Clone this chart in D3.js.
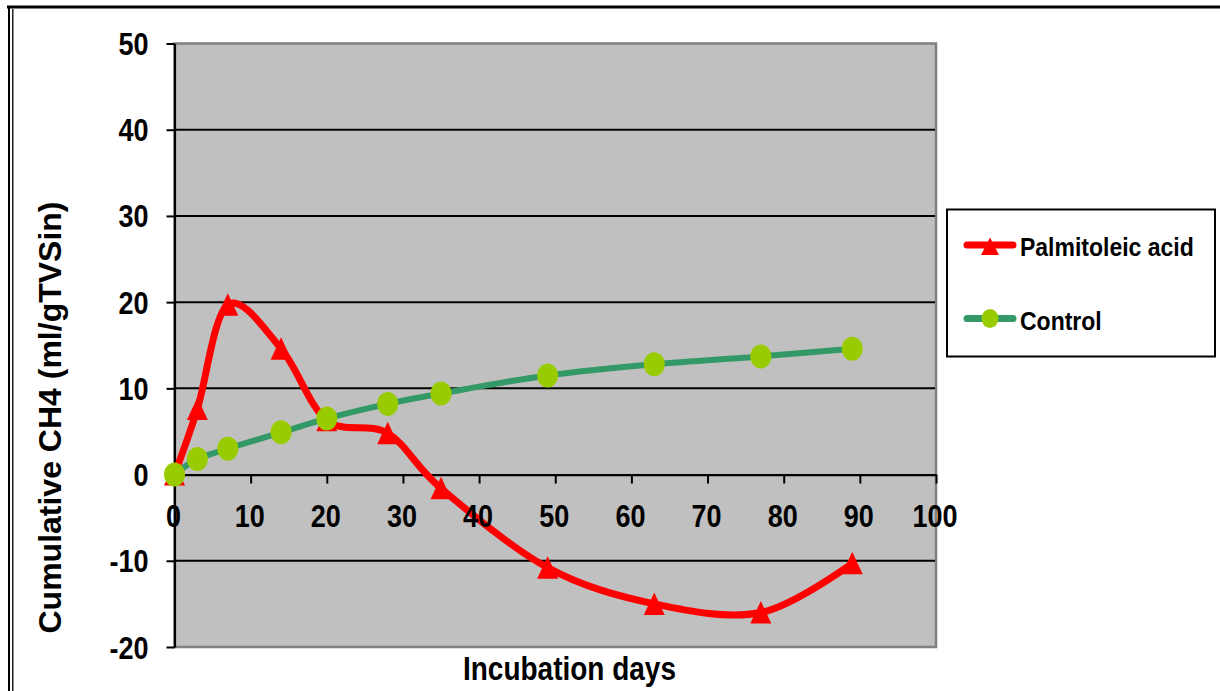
<!DOCTYPE html>
<html>
<head>
<meta charset="utf-8">
<script src="https://cdn.jsdelivr.net/npm/d3@7"></script>
<style>
  body { margin: 0; background: #fff; }
  svg { display: block; }
  text { font-family: "Liberation Sans", Arial, Helvetica, sans-serif; font-weight: bold; fill: #000; }
</style>
</head>
<body>
<svg id="chart" width="1220" height="691"></svg>
<script>
// Incubation days at which cumulative methane was measured
const days = [0, 3, 7, 14, 20, 28, 35, 49, 63, 77, 89];
// Cumulative CH4 (ml/gTVSin)
const palmitoleic = [0, 7.6, 19.7, 14.6, 6.3, 4.8, -1.6, -10.8, -15.0, -16.0, -10.3];
const control = [0, 1.8, 3.0, 4.9, 6.5, 8.2, 9.4, 11.5, 12.8, 13.7, 14.6];
const seriesNames = ["Palmitoleic acid", "Control"];
const xTicks = [0, 10, 20, 30, 40, 50, 60, 70, 80, 90, 100];
const yTicks = [-20, -10, 0, 10, 20, 30, 40, 50];
const xTitle = "Incubation days";
const yTitle = "Cumulative CH4 (ml/gTVSin)";

const svg = d3.select("#chart");
const W = 1220, H = 691;
const plot = { left: 174.5, right: 936, top: 43.5, bottom: 647 };
const stretch = 1.19; // labels are drawn tall and narrow

const x = d3.scaleLinear().domain([0, 100]).range([plot.left, plot.right]);
const y = d3.scaleLinear().domain([-20, 50]).range([plot.bottom, plot.top]);

const RED = "#ff0000", GREEN_LINE = "#339966", GREEN_DOT = "#99cc00";

// outer frame: heavy top rule and a double rule on the left
svg.append("line").attr("x1", 7).attr("x2", W).attr("y1", 7).attr("y2", 7)
  .attr("stroke", "#000").attr("stroke-width", 3);
svg.append("line").attr("x1", 9).attr("x2", 9).attr("y1", 6).attr("y2", H)
  .attr("stroke", "#000").attr("stroke-width", 2);
svg.append("line").attr("x1", 12.8).attr("x2", 12.8).attr("y1", 9).attr("y2", H)
  .attr("stroke", "#000").attr("stroke-width", 1.3);

// plot area
svg.append("rect")
  .attr("x", plot.left).attr("y", plot.top)
  .attr("width", plot.right - plot.left).attr("height", plot.bottom - plot.top)
  .attr("fill", "#c0c0c0").attr("stroke", "#808080").attr("stroke-width", 2.5);

// horizontal gridlines
svg.append("g").selectAll("line")
  .data(yTicks.filter(v => v !== 0 && v !== -20 && v !== 50))
  .join("line")
  .attr("x1", plot.left).attr("x2", plot.right - 1)
  .attr("y1", d => y(d)).attr("y2", d => y(d))
  .attr("stroke", "#000").attr("stroke-width", 2);

// y axis with outward ticks
const yAxis = svg.append("g")
  .attr("transform", `translate(${plot.left},0)`)
  .call(d3.axisLeft(y).tickValues(yTicks).tickFormat("").tickSize(8).tickSizeOuter(0));
yAxis.select(".domain").attr("stroke", "#000").attr("stroke-width", 2.2);
yAxis.selectAll(".tick line").attr("stroke", "#000").attr("stroke-width", 2);

// x axis crossing at zero, ticks pointing down
const xAxis = svg.append("g")
  .attr("transform", `translate(0,${y(0)})`)
  .call(d3.axisBottom(x).tickValues(xTicks).tickFormat("").tickSize(9).tickSizeOuter(0));
xAxis.select(".domain").attr("stroke", "#000").attr("stroke-width", 2.2);
xAxis.selectAll(".tick line").attr("stroke", "#000").attr("stroke-width", 2);

const curve = d3.curveCardinal.tension(0);
const line = d3.line().x(d => x(d[0])).y(d => y(d[1])).curve(curve);

const redPts = days.map((d, i) => [d, palmitoleic[i]]);
const greenPts = days.map((d, i) => [d, control[i]]);

const triangle = (cx, cy, hw, up, down) =>
  `M${cx},${cy - up}L${cx + hw},${cy + down}L${cx - hw},${cy + down}Z`;

// Palmitoleic acid series
svg.append("path").attr("d", line(redPts))
  .attr("fill", "none").attr("stroke", RED).attr("stroke-width", 7)
  .attr("stroke-linejoin", "round").attr("stroke-linecap", "round");
svg.append("g").selectAll("path")
  .data(redPts).join("path")
  .attr("d", d => triangle(x(d[0]), y(d[1]), 10.5, 11.5, 11))
  .attr("fill", RED);

// Control series
svg.append("path").attr("d", line(greenPts))
  .attr("fill", "none").attr("stroke", GREEN_LINE).attr("stroke-width", 6)
  .attr("stroke-linejoin", "round").attr("stroke-linecap", "round");
svg.append("g").selectAll("ellipse")
  .data(greenPts).join("ellipse")
  .attr("cx", d => x(d[0])).attr("cy", d => y(d[1]))
  .attr("rx", 10.5).attr("ry", 12)
  .attr("fill", GREEN_DOT);

// tall narrow text helper
function label(g, tx, ty, str, size, anchor, sy) {
  return g.append("text")
    .attr("transform", `translate(${tx},${ty}) scale(1,${sy})`)
    .attr("text-anchor", anchor)
    .style("font-size", size + "px")
    .text(str);
}

// tick labels
const tl = svg.append("g");
yTicks.forEach(v => label(tl, 148.5, y(v) + 11.5, String(v), 27, "end", stretch));
xTicks.forEach(v => label(tl, x(v) - 1, 527, String(v), 27, "middle", stretch));

// axis titles
label(svg, 569.5, 680, xTitle, 28, "middle", 1.2);
svg.append("text")
  .attr("transform", `translate(61,417.5) rotate(-90)`)
  .attr("text-anchor", "middle")
  .style("font-size", "32px")
  .text(yTitle);

// legend
const lg = svg.append("g");
lg.append("rect").attr("x", 947).attr("y", 209.5).attr("width", 268).attr("height", 147)
  .attr("fill", "#fff").attr("stroke", "#000").attr("stroke-width", 2);
const legendRows = [
  { name: seriesNames[0], y: 245, baseline: 256 },
  { name: seriesNames[1], y: 318.5, baseline: 330 }
];
// Palmitoleic acid key
lg.append("line").attr("x1", 967).attr("x2", 1013)
  .attr("y1", legendRows[0].y).attr("y2", legendRows[0].y)
  .attr("stroke", RED).attr("stroke-width", 7).attr("stroke-linecap", "round");
lg.append("path").attr("d", triangle(990, legendRows[0].y + 1.5, 9, 9, 8.5)).attr("fill", RED);
// Control key
lg.append("line").attr("x1", 967).attr("x2", 1013)
  .attr("y1", legendRows[1].y).attr("y2", legendRows[1].y)
  .attr("stroke", GREEN_LINE).attr("stroke-width", 7).attr("stroke-linecap", "round");
lg.append("ellipse").attr("cx", 990).attr("cy", legendRows[1].y).attr("rx", 8.5).attr("ry", 9.5)
  .attr("fill", GREEN_DOT);
legendRows.forEach(r => label(lg, 1020, r.baseline, r.name, 23, "start", 1.16));
</script>
</body>
</html>
